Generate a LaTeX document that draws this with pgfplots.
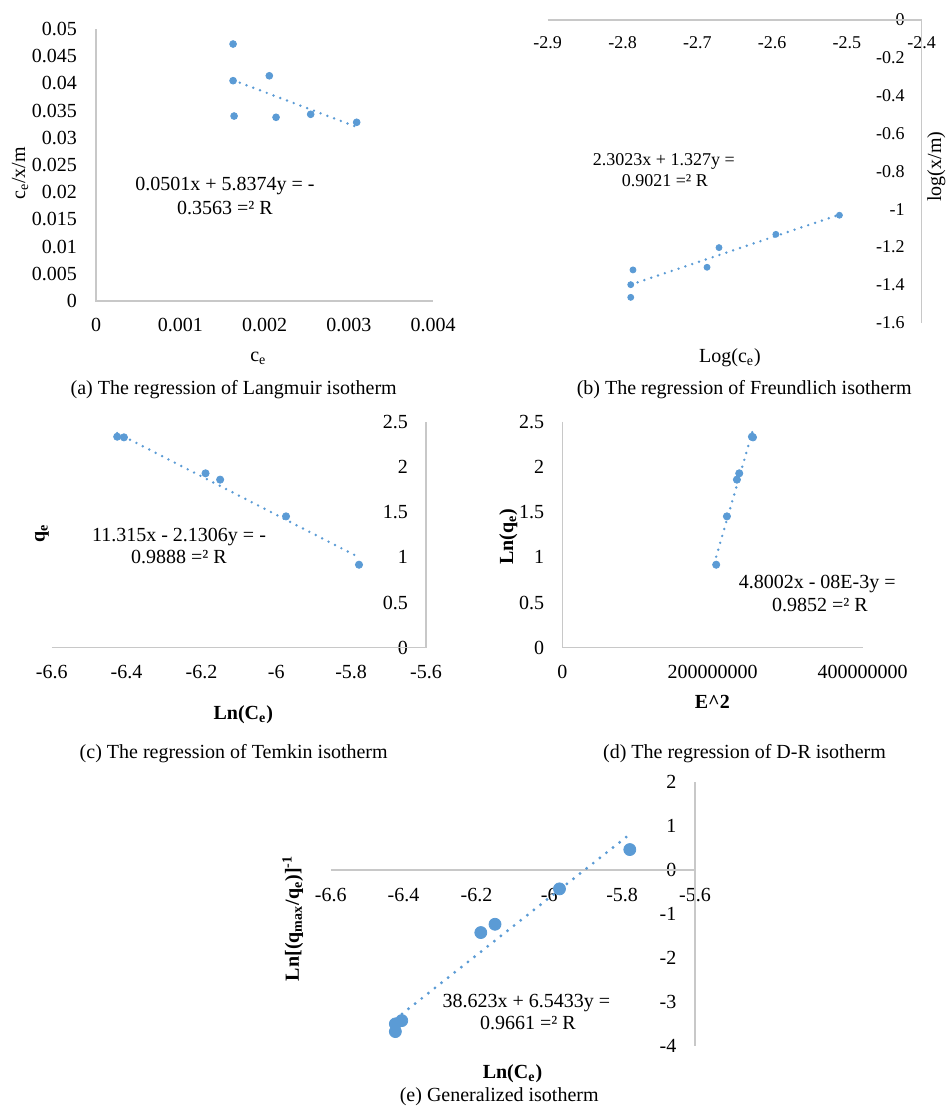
\documentclass[border=0pt]{standalone}
\usepackage{fontspec}
\setmainfont{Liberation Serif}
\usepackage{pgfplots}
\pgfplotsset{compat=1.18}
\definecolor{xlblue}{RGB}{91,155,213}
\definecolor{axgray}{RGB}{200,200,200}
\pgfplotsset{
  panel/.style={scale only axis, anchor=south west, axis lines=box,
    axis line style={draw=none}, major tick length=0pt, scaled ticks=false,
    clip=false},
  pts/.style={only marks, mark=*, mark size=1.7pt, color=xlblue},
  trend/.style={no marks, xlblue, line width=1.35pt, line cap=round,
    dash pattern=on 0pt off 3.6pt},
}
\tikzset{axl/.style={axgray, line width=0.75pt}}
\newcommand{\ninept}{\fontsize{9}{11}\selectfont}
\begin{document}
\begin{tikzpicture}
\path[use as bounding box] (0,0) rectangle (473pt,-553pt);

% (a) Langmuir
\begin{axis}[panel, at={(48pt,-150.5pt)}, width=168.5pt, height=136pt,
  xmin=0, xmax=0.004, ymin=0, ymax=0.05,
  xtick={0,0.001,0.002,0.003,0.004}, xticklabels={0,0.001,0.002,0.003,0.004},
  ytick={0,0.005,0.01,0.015,0.02,0.025,0.03,0.035,0.04,0.045,0.05},
  yticklabels={0,0.005,0.01,0.015,0.02,0.025,0.03,0.035,0.04,0.045,0.05},
  xticklabel style={yshift=-5.3pt}, yticklabel style={xshift=-6pt}]
\draw[axl] (0,0.05) -- (0,0) -- (0.004,0);
\addplot[pts] coordinates {(0.001627,0.04724) (0.001627,0.0405) (0.001639,0.0340)
  (0.002057,0.0414) (0.002137,0.03377) (0.002548,0.03432) (0.003094,0.03285)};
\addplot[trend] coordinates {(0.001627,0.0406) (0.003094,0.0320)};
\end{axis}

% (b) Freundlich
\begin{axis}[panel, at={(273.85pt,-161.35pt)}, width=187pt, height=151.35pt,
  xmin=-2.9, xmax=-2.4, ymin=-1.6, ymax=0,
  xtick={-2.9,-2.8,-2.7,-2.6,-2.5,-2.4}, xticklabels={-2.9,-2.8,-2.7,-2.6,-2.5,-2.4},
  ytick={-1.6,-1.4,-1.2,-1,-0.8,-0.6,-0.4,-0.2,0},
  yticklabels={-1.6,-1.4,-1.2,-1,-0.8,-0.6,-0.4,-0.2,0},
  tick label style={font=\ninept},
  xticklabel pos=upper, yticklabel pos=right,
  xticklabel style={anchor=north, yshift=-4.6pt},
  yticklabel style={anchor=east, xshift=-5pt}]
\draw[axl] (-2.9,0) -- (-2.4,0) -- (-2.4,-1.6);
\addplot[pts, mark size=1.5pt] coordinates {(-2.786,-1.321) (-2.789,-1.399) (-2.789,-1.466)
  (-2.687,-1.307) (-2.671,-1.203) (-2.595,-1.133) (-2.510,-1.032)};
\addplot[trend] coordinates {(-2.789,-1.399) (-2.510,-1.029)};
\end{axis}

% (c) Temkin
\begin{axis}[panel, at={(25.85pt,-323.85pt)}, width=187.15pt, height=113pt,
  xmin=-6.6, xmax=-5.6, ymin=0, ymax=2.5,
  xtick={-6.6,-6.4,-6.2,-6,-5.8,-5.6}, xticklabels={-6.6,-6.4,-6.2,-6,-5.8,-5.6},
  ytick={0,0.5,1,1.5,2,2.5}, yticklabels={0,0.5,1,1.5,2,2.5},
  yticklabel pos=right,
  xticklabel style={yshift=-5.3pt},
  yticklabel style={anchor=east, xshift=-5.5pt}]
\draw[axl] (-6.6,0) -- (-5.6,0) -- (-5.6,2.5);
\addplot[pts, mark size=1.8pt] coordinates {(-6.425,2.334) (-6.407,2.327) (-6.189,1.929)
  (-6.150,1.859) (-5.974,1.453) (-5.779,0.918)};
\addplot[trend] coordinates {(-6.425,2.374) (-5.779,1.000)};
\end{axis}

% (d) D-R
\begin{axis}[panel, at={(281.15pt,-323.85pt)}, width=150.2pt, height=113pt,
  xmin=0, xmax=4e8, ymin=0, ymax=2.5,
  xtick={0,2e8,4e8}, xticklabels={0,200000000,400000000},
  ytick={0,0.5,1,1.5,2,2.5}, yticklabels={0,0.5,1,1.5,2,2.5},
  xticklabel style={yshift=-5.3pt}, yticklabel style={xshift=-5.5pt}]
\draw[axl] (0,2.5) -- (0,0) -- (4e8,0);
\addplot[pts, mark size=1.8pt] coordinates {(2.049e8,0.918) (2.192e8,1.453) (2.325e8,1.859)
  (2.356e8,1.929) (2.525e8,2.334) (2.539e8,2.327)};
\addplot[trend] coordinates {(2.049e8,1.007) (2.539e8,2.411)};
\end{axis}

% (e) Generalized
\begin{axis}[panel, at={(165.35pt,-522.75pt)}, width=182.15pt, height=131.75pt,
  xmin=-6.6, xmax=-5.6, ymin=-4, ymax=2,
  xtick={-6.6,-6.4,-6.2,-6,-5.8,-5.6}, xticklabels={-6.6,-6.4,-6.2,-6,-5.8,-5.6},
  ytick={-4,-3,-2,-1,0,1,2}, yticklabels={-4,-3,-2,-1,0,1,2},
  yticklabel pos=right,
  xticklabel style={yshift=82pt},
  yticklabel style={anchor=east, xshift=-5.8pt}]
\draw[axl] (-6.6,0) -- (-5.6,0);
\draw[axl] (-5.6,2) -- (-5.6,-4);
\addplot[trend, line width=1.6pt, dash pattern=on 0pt off 4.2pt]
  coordinates {(-6.4225,-3.40) (-5.779,0.81)};
\addplot[pts, mark size=3pt] coordinates {(-6.4225,-3.508) (-6.4225,-3.683) (-6.405,-3.433)
  (-6.188,-1.428) (-6.149,-1.239) (-5.972,-0.433) (-5.779,0.462)};
\end{axis}

\begin{scope}[x=0.5pt,y=-0.5pt]
% captions
\node[anchor=base] at (233.7,394.3) {(a) The regression of Langmuir isotherm};
\node[anchor=base] at (744.2,394) {(b) The regression of Freundlich isotherm};
\node[anchor=base] at (233.7,758) {(c) The regression of Temkin isotherm};
\node[anchor=base] at (744.5,758) {(d) The regression of D-R isotherm};
\node[anchor=base] at (499.2,1101.5) {(e) Generalized isotherm};
% trendline equations
\node[anchor=base] at (225,190.3) {0.0501x + 5.8374y = -};
\node[anchor=base] at (225,214.7) {0.3563 =² R};
\node[anchor=base, font=\ninept] at (663.8,165.8) {2.3023x + 1.327y =};
\node[anchor=base, font=\ninept] at (664.8,186.5) {0.9021 =² R};
\node[anchor=base] at (179,541.3) {11.315x - 2.1306y = -};
\node[anchor=base] at (179,563) {0.9888 =² R};
\node[anchor=base] at (817.2,588) {4.8002x - 08E-3y =};
\node[anchor=base] at (820,611) {0.9852 =² R};
\node[anchor=base] at (526.3,1007) {38.623x + 6.5433y =};
\node[anchor=base] at (528,1029.7) {0.9661 =² R};
% axis titles
\node[rotate=90] at (20,173.3) {c\textsubscript{e}/x/m};
\node at (258.3,358.3) {c\textsubscript{e}};
\node at (730,357.3) {Log(c\textsubscript{e})};
\node[rotate=90, anchor=base] at (941,166.7) {log(x/m)};
\node[rotate=90, font=\bfseries] at (42,533) {q\textsubscript{e}};
\node[font=\bfseries] at (243.3,715) {Ln(C\textsubscript{e})};
\node[rotate=90, font=\bfseries] at (508.3,536.7) {Ln(q\textsubscript{e})};
\node[font=\bfseries] at (712.3,702.3) {E\textasciicircum 2};
\node[rotate=90, font=\bfseries] at (292.7,918.3) {Ln[(q\textsubscript{max}/q\textsubscript{e})]\textsuperscript{-1}};
\node[font=\bfseries] at (512.5,1073.3) {Ln(C\textsubscript{e})};
\end{scope}
\end{tikzpicture}
\end{document}
